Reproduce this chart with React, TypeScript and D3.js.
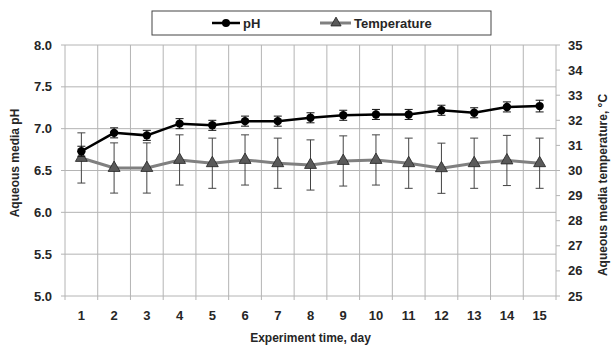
import React from 'react'
import * as d3 from 'd3'

// values
const days = ['1', '2', '3', '4', '5', '6', '7', '8', '9', '10', '11', '12', '13', '14', '15']
const phValues = [6.73, 6.95, 6.92, 7.06, 7.04, 7.09, 7.09, 7.13, 7.16, 7.17, 7.17, 7.22, 7.19, 7.26, 7.27]
const phErrors = [0.06, 0.06, 0.06, 0.06, 0.06, 0.06, 0.06, 0.06, 0.06, 0.06, 0.06, 0.06, 0.06, 0.06, 0.07]
const tempValues = [30.5, 30.1, 30.1, 30.42, 30.29, 30.42, 30.29, 30.22, 30.38, 30.42, 30.29, 30.09, 30.29, 30.4, 30.29]
const tempErrors = [1.0, 1.0, 1.0, 1.0, 1.0, 1.0, 1.0, 1.0, 1.0, 1.0, 1.0, 1.0, 1.0, 1.0, 1.0]
const phTicks = [5.0, 5.5, 6.0, 6.5, 7.0, 7.5, 8.0]
const tempTicks = [25, 26, 27, 28, 29, 30, 31, 32, 33, 34, 35]

const W = 611
const H = 346
const margin = { top: 45, right: 55, bottom: 50, left: 65 }
const font = '"Liberation Sans", Arial, sans-serif'
const gridColor = '#b4b4b4'
const textColor = '#262626'

export default function App() {
  const x = d3.scaleBand().domain(days).range([margin.left, W - margin.right]).padding(0)
  const yPh = d3.scaleLinear().domain([5, 8]).range([H - margin.bottom, margin.top])
  const yT = d3.scaleLinear().domain([25, 35]).range([H - margin.bottom, margin.top])
  const cx = (d: string) => (x(d) as number) + x.bandwidth() / 2
  const plotBottom = H - margin.bottom
  const plotRight = W - margin.right

  const phLine = d3.line<number>().x((_, i) => cx(days[i])).y(v => yPh(v))
  const tLine = d3.line<number>().x((_, i) => cx(days[i])).y(v => yT(v))
  const tri = d3.symbol(d3.symbolTriangle, 62)()
  const capW = 4

  // band boundaries for vertical gridlines
  const bounds = days.map(d => x(d) as number).concat([plotRight])

  return (
    <svg width={W} height={H} style={{ position: 'absolute', left: 0, top: 0, background: '#fff' }} fontFamily={font}>
      {/* horizontal grid */}
      {phTicks.map(t => (
        <line key={'h' + t} x1={margin.left - 4} x2={plotRight} y1={yPh(t)} y2={yPh(t)} stroke={gridColor} strokeWidth={1} />
      ))}
      {/* vertical grid + bottom ticks */}
      {bounds.map((b, i) => (
        <line key={'v' + i} x1={b} x2={b} y1={margin.top} y2={plotBottom + 4} stroke={gridColor} strokeWidth={1} />
      ))}
      {/* right axis ticks */}
      {tempTicks.map(t => (
        <line key={'rt' + t} x1={plotRight} x2={plotRight + 4} y1={yT(t)} y2={yT(t)} stroke={gridColor} strokeWidth={1} />
      ))}

      {/* left tick labels */}
      {phTicks.map(t => (
        <text key={'lt' + t} x={52} y={yPh(t)} dy="0.35em" textAnchor="end" fontSize={13} fontWeight="bold" fill={textColor}>
          {t.toFixed(1)}
        </text>
      ))}
      {/* right tick labels */}
      {tempTicks.map(t => (
        <text key={'rl' + t} x={568} y={yT(t)} dy="0.35em" textAnchor="start" fontSize={13} fontWeight="bold" fill={textColor}>
          {t}
        </text>
      ))}
      {/* x tick labels */}
      {days.map(d => (
        <text key={'xl' + d} x={cx(d)} y={315} dy="0.35em" textAnchor="middle" fontSize={13} fontWeight="bold" fill={textColor}>
          {d}
        </text>
      ))}

      {/* axis titles */}
      <text x={(margin.left + plotRight) / 2} y={338} dy="0.35em" textAnchor="middle" fontSize={12} fontWeight="bold" fill={textColor}>
        Experiment time, day
      </text>
      <text transform={`translate(19,163) rotate(-90)`} textAnchor="middle" fontSize={12} fontWeight="bold" fill={textColor}>
        Aqueous media pH
      </text>
      <text transform={`translate(607,185) rotate(-90)`} textAnchor="middle" fontSize={12} fontWeight="bold" fill={textColor}>
        Aqueous media temperature, °C
      </text>

      {/* temperature series */}
      <path d={tLine(tempValues) || ''} fill="none" stroke="#808080" strokeWidth={3} />
      {tempValues.map((v, i) => {
        const px = cx(days[i])
        const top = yT(v + tempErrors[i])
        const bot = yT(v - tempErrors[i])
        return (
          <g key={'te' + i} stroke="#444" strokeWidth={1}>
            <line x1={px} x2={px} y1={top} y2={bot} />
            <line x1={px - capW} x2={px + capW} y1={top} y2={top} />
            <line x1={px - capW} x2={px + capW} y1={bot} y2={bot} />
          </g>
        )
      })}
      {tempValues.map((v, i) => (
        <path key={'tm' + i} d={tri || ''} transform={`translate(${cx(days[i])},${yT(v)})`} fill="#5a5a5a" stroke="#222" strokeWidth={0.8} />
      ))}

      {/* pH series */}
      {phValues.map((v, i) => {
        const px = cx(days[i])
        const top = yPh(v + phErrors[i])
        const bot = yPh(v - phErrors[i])
        return (
          <g key={'pe' + i} stroke="#111" strokeWidth={1}>
            <line x1={px} x2={px} y1={top} y2={bot} />
            <line x1={px - capW} x2={px + capW} y1={top} y2={top} />
            <line x1={px - capW} x2={px + capW} y1={bot} y2={bot} />
          </g>
        )
      })}
      <path d={phLine(phValues) || ''} fill="none" stroke="#000" strokeWidth={2.5} />
      {phValues.map((v, i) => (
        <circle key={'pm' + i} cx={cx(days[i])} cy={yPh(v)} r={4.2} fill="#000" />
      ))}

      {/* legend */}
      <rect x={152} y={11} width={339} height={24} fill="#fff" stroke="#444" strokeWidth={1} />
      <line x1={212} x2={240} y1={23} y2={23} stroke="#000" strokeWidth={2.5} />
      <circle cx={226} cy={23} r={4} fill="#000" />
      <text x={243} y={23} dy="0.35em" fontSize={13} fontWeight="bold" fill={textColor}>pH</text>
      <line x1={320} x2={351} y1={23} y2={23} stroke="#808080" strokeWidth={3} />
      <path d={d3.symbol(d3.symbolTriangle, 45)() || ''} transform="translate(336,23)" fill="#5a5a5a" stroke="#222" strokeWidth={0.8} />
      <text x={354} y={23} dy="0.35em" fontSize={13} fontWeight="bold" fill={textColor}>Temperature</text>
    </svg>
  )
}
